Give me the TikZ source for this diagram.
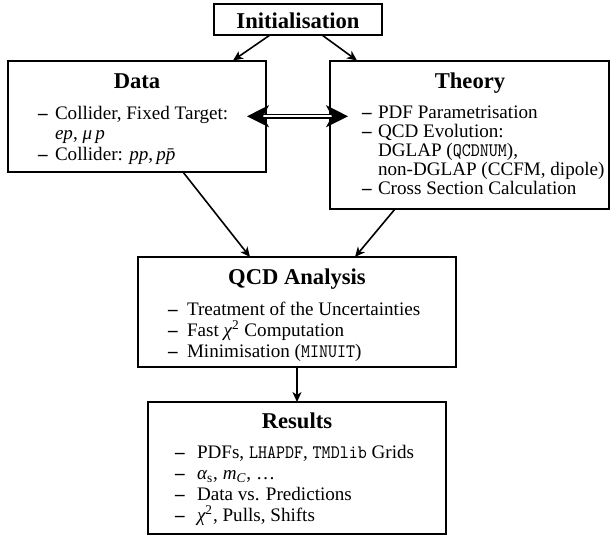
\documentclass[tikz,border=0pt]{standalone}
\usepackage{fontspec}
\setmainfont{Liberation Serif}
\setmonofont[FakeStretch=0.9]{Latin Modern Mono}
\usetikzlibrary{arrows.meta,calc}
\newcommand\bodyfnt{\fontsize{9.55}{11}\selectfont}
\newcommand\titlefnt{\fontsize{11.3}{13}\selectfont\bfseries}
\newcommand\dsh{\textbf{–}}
\begin{document}
\begin{tikzpicture}[x=0.5pt,y=-0.5pt,
  box/.style={draw, line width=1pt, inner sep=0pt, outer sep=0pt},
  txt/.style={anchor=base west, inner sep=0pt, outer sep=0pt, font=\bodyfnt},
  ttl/.style={anchor=base, inner sep=0pt, outer sep=0pt, font=\titlefnt},
  arr/.style={line width=0.8pt, -{Stealth[length=5pt,width=4.5pt,inset=1.5pt]}},
  dbl/.style={double, line width=0.75pt, double distance=1pt,
    {Stealth[length=11pt,width=11pt,inset=3pt]}-{Stealth[length=11pt,width=11pt,inset=3pt]}}]
\useasboundingbox (0,0) rectangle (610,538);

% boxes
\node[box, minimum width=84pt, minimum height=15.5pt] (init) at (298,19.5) {};
\node[box, minimum width=129pt, minimum height=55.75pt] (data) at (137,116.25) {};
\node[box, minimum width=139.5pt, minimum height=74.25pt] (theory) at (469.5,134.75) {};
\node[box, minimum width=159pt, minimum height=55pt] (qcd) at (297,312) {};
\node[box, minimum width=149pt, minimum height=66pt] (res) at (297,468) {};

% titles
\node[ttl] (tInit) at (298,28) {Initialisation};
\node[ttl] (tData) at (137,88) {Data};
\node[ttl] (tTheo) at (470,88) {Theory};
\node[ttl] (tQcd) at (297,284) {QCD Analysis};
\node[ttl] (tRes) at (297,428) {Results};

% data items
\node[txt] (dd1) at (38,119) {\dsh};
\node[txt] (dt1) at (55,119) {Collider, Fixed Target:};
\node[txt] (dt2) at (55,139.5) {{\itshape ep}, {\itshape μ\,p}};
\node[txt] (dd3) at (38,160) {\dsh};
\node[txt] (dt3) at (55,160) {Collider: {\itshape pp},\,{\itshape p\={p}}};

% theory items
\node[txt] (td1) at (362,118.5) {\dsh};
\node[txt] (tt1) at (378,118.5) {PDF Parametrisation};
\node[txt] (td2) at (362,137.5) {\dsh};
\node[txt] (tt2) at (378,137.5) {QCD Evolution:};
\node[txt] (tt3) at (378,156.5) {DGLAP (\texttt{QCDNUM}),};
\node[txt] (tt4) at (378,175.5) {non-DGLAP (CCFM, dipole)};
\node[txt] (td5) at (362,194.5) {\dsh};
\node[txt] (tt5) at (378,194.5) {Cross Section Calculation};

% qcd items
\node[txt] (qd1) at (168,315) {\dsh};
\node[txt] (qt1) at (187,315) {Treatment of the Uncertainties};
\node[txt] (qd2) at (168,336.5) {\dsh};
\node[txt] (qt2) at (187,336.5) {Fast {\itshape χ}\textsuperscript{2} Computation};
\node[txt] (qd3) at (168,357.5) {\dsh};
\node[txt] (qt3) at (187,357.5) {Minimisation (\texttt{MINUIT})};

% results items
\node[txt] (rd1) at (175,458) {\dsh};
\node[txt] (rt1) at (197,458) {PDFs, \texttt{LHAPDF}, \texttt{TMDlib} Grids};
\node[txt] (rd2) at (175,479.5) {\dsh};
\node[txt] (rt2) at (197,479.5) {{\itshape α}\textsubscript{s}, {\itshape m}\textsubscript{\itshape C}, \ldots};
\node[txt] (rd3) at (175,500.5) {\dsh};
\node[txt] (rt3) at (197,500.5) {Data vs. Predictions};
\node[txt] (rd4) at (175,521.5) {\dsh};
\node[txt] (rt4) at (197,521.5) {{\itshape χ}\textsuperscript{2}, Pulls, Shifts};

% connectors
\draw[arr] ([xshift=-14pt]init.south) -- ([xshift=48pt]data.north);
\draw[arr] ([xshift=12pt]init.south) -- ([xshift=-56.25pt]theory.north);
\draw[arr] ([xshift=23pt]data.south) -- ([xshift=-23.5pt]qcd.north);
\draw[arr] ([xshift=-37.25pt]theory.south) -- ([xshift=29pt]qcd.north);
\draw[arr] (qcd.south) -- (res.north);
\draw[dbl] ([xshift=-9.5pt]data.east) -- ([xshift=9pt]data.east -| theory.west);
\end{tikzpicture}
\end{document}
